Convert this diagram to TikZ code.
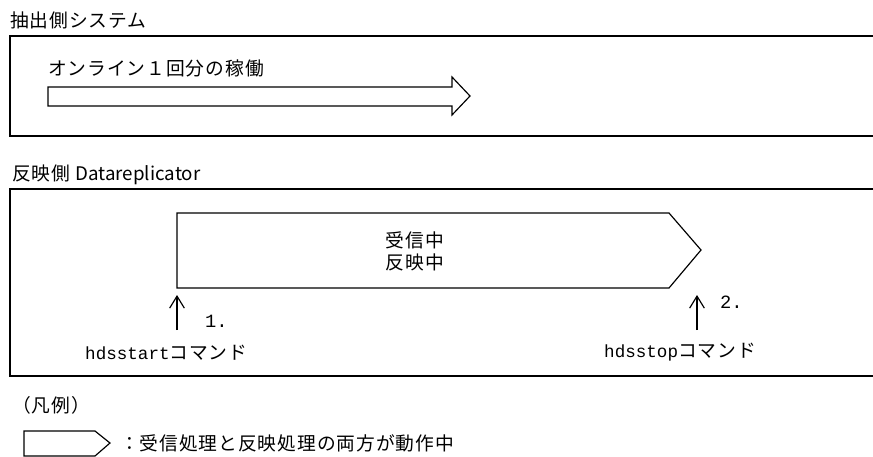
\documentclass[tikz,border=0pt]{standalone}
\usepackage{fontspec}
\setmainfont[LetterSpace=5]{Noto Sans CJK JP}
\newfontfamily\latinfont{Noto Sans CJK JP}
\newfontfamily\monofont{Liberation Mono}
\usetikzlibrary{arrows.meta}

\begin{document}
\begin{tikzpicture}[x=0.03cm,y=-0.03cm,
    frame/.style={line width=1pt},
    lbl/.style={inner sep=0pt,font=\fontsize{16}{19}\selectfont},
    cmd/.style={-{Straight Barb[length=3.6mm,width=4.4mm]},line width=1pt}]
  \useasboundingbox (0,0) rectangle (873,457);
  % extraction side
  \node[lbl,anchor=west] (srcTitle) at (10,20) {抽出側システム};
  \draw[frame] (873,36) -- (10,36) -- (10,136) -- (873,136);
  \node[lbl,anchor=west] (online) at (48,68) {オンライン１回分の稼働};
  \draw[frame] (48,87) -- (452,87) -- (452,77) -- (470,96) -- (452,115)
    -- (452,106) -- (48,106) -- cycle;
  % reflection side
  \node[lbl,anchor=west] (dstTitle) at (12,175) {反映側 {\latinfont Datareplicator}};
  \draw[frame] (873,189) -- (10,189) -- (10,376) -- (873,376);
  \draw[frame] (177,213) -- (669,213) -- (701,250) -- (669,288) -- (177,288) -- cycle;
  \node[lbl,align=center] (busy) at (415,251) {受信中\\反映中};
  \coordinate (startTip) at (177,295);
  \coordinate (startBase) at (177,330);
  \coordinate (stopTip) at (697,295);
  \coordinate (stopBase) at (697,330);
  \draw[cmd] (startBase) -- (startTip);
  \draw[cmd] (stopBase) -- (stopTip);
  \node[lbl,anchor=west,font=\fontsize{16}{19}\monofont] (startNum) at (205,321) {1.};
  \node[lbl,anchor=west,font=\fontsize{16}{19}\monofont] (stopNum) at (720,302) {2.};
  \node[lbl,anchor=west] (startCmd) at (85,353) {{\fontsize{15}{19}\monofont hdsstart}コマンド};
  \node[lbl,anchor=west] (stopCmd) at (604,352) {{\fontsize{15}{19}\monofont hdsstop}コマンド};
  % legend
  \node[lbl,anchor=west] (legend) at (12,405) {（凡例）};
  \draw[frame] (24,431) -- (95,431) -- (110,443) -- (95,456) -- (24,456) -- cycle;
  \node[lbl,anchor=west] (legendText) at (120,443) {：受信処理と反映処理の両方が動作中};
\end{tikzpicture}
\end{document}
